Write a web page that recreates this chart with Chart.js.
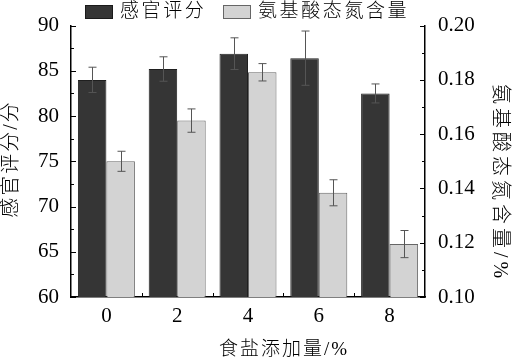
<!DOCTYPE html>
<html><head><meta charset="utf-8">
<script src="https://cdn.jsdelivr.net/npm/chart.js@4/dist/chart.umd.min.js"></script>
<style>html,body{margin:0;padding:0;background:#fff}#w{width:515px;height:364px}</style>
</head><body><div id="w"><canvas id="c"></canvas></div>
<script>
const categories = ['0','2','4','6','8'];
const sensory = [84.0, 85.2, 86.9, 86.4, 82.5];
const sensoryErr = [1.4, 1.35, 1.75, 3.0, 1.05];
const amino = [0.150, 0.165, 0.1828, 0.1384, 0.1195];
const aminoErr = [0.0037, 0.0043, 0.0032, 0.0048, 0.0050];
const seriesNames = ['感官评分', '氨基酸态氮含量'];
const leftTitle = '感官评分/分';
const rightTitle = '氨基酸态氮含量/%';
const xTitle = '食盐添加量/%';

const serif = "'Liberation Serif'";
const cjk = "'Liberation Serif', 'Noto Sans CJK SC'";

function spacedText(ctx, text, x, y, size, spacing) {
  ctx.font = '300 ' + size + 'px ' + cjk;
  if ('letterSpacing' in ctx) {
    ctx.letterSpacing = spacing + 'px';
    ctx.fillText(text, x, y);
    ctx.letterSpacing = '0px';
  } else {
    ctx.fillText(text, x, y);
  }
}

const extras = {
  id: 'extras',
  afterDatasetsDraw(chart) {
    const ctx = chart.ctx;
    const errs = [sensoryErr, aminoErr];
    const vals = [sensory, amino];
    ctx.save();
    ctx.strokeStyle = '#555';
    ctx.lineWidth = 1;
    [0,1].forEach(di => {
      const meta = chart.getDatasetMeta(di);
      const sc = chart.scales[meta.yAxisID];
      meta.data.forEach((bar, i) => {
        const x = Math.round(bar.x) + 0.5;
        const yt = sc.getPixelForValue(vals[di][i] + errs[di][i]);
        const yb = sc.getPixelForValue(vals[di][i] - errs[di][i]);
        ctx.beginPath();
        ctx.moveTo(x, yt); ctx.lineTo(x, yb);
        ctx.moveTo(x - 4, yt); ctx.lineTo(x + 4, yt);
        ctx.moveTo(x - 4, yb); ctx.lineTo(x + 4, yb);
        ctx.stroke();
      });
    });
    ctx.restore();
  },
  afterDraw(chart) {
    const ctx = chart.ctx;
    const a = chart.chartArea;
    const y = chart.scales.y, y1 = chart.scales.y1, x = chart.scales.x;
    ctx.save();
    ctx.strokeStyle = '#000';
    ctx.lineWidth = 1;
    for (let v = 60; v <= 90; v += 2.5) {
      const p = Math.round(y.getPixelForValue(v)) + 0.5;
      const len = (v % 5 === 0) ? 5 : 3;
      ctx.beginPath(); ctx.moveTo(a.left, p); ctx.lineTo(a.left + len, p); ctx.stroke();
    }
    for (let k = 0; k <= 10; k++) {
      const v = 0.10 + k * 0.01;
      const p = Math.round(y1.getPixelForValue(v)) + 0.5;
      const len = (k % 2 === 0) ? 5 : 3;
      ctx.beginPath(); ctx.moveTo(a.right, p); ctx.lineTo(a.right - len, p); ctx.stroke();
    }
    for (let i = 0; i < categories.length - 1; i++) {
      const p = Math.round((x.getPixelForValue(i) + x.getPixelForValue(i + 1)) / 2) + 0.5;
      ctx.beginPath(); ctx.moveTo(p, a.bottom); ctx.lineTo(p, a.bottom - 4); ctx.stroke();
    }
    ctx.fillStyle = '#000';
    ctx.textAlign = 'center';
    ctx.textBaseline = 'middle';
    spacedText(ctx, xTitle, 284, 350, 19, 2);
    ctx.save();
    ctx.translate(12, 159); ctx.rotate(-Math.PI / 2);
    spacedText(ctx, leftTitle, 0, 0, 20, 2);
    ctx.restore();
    ctx.save();
    ctx.translate(499, 183); ctx.rotate(Math.PI / 2);
    spacedText(ctx, rightTitle, 0, 0, 20, 4);
    ctx.restore();
    const items = [
      {x: 85, tx: 120, fill: '#353535', stroke: '#1a1a1a', label: seriesNames[0]},
      {x: 223, tx: 258, fill: '#d3d3d3', stroke: '#666', label: seriesNames[1]}
    ];
    ctx.textAlign = 'left';
    items.forEach(it => {
      ctx.fillStyle = it.fill; ctx.strokeStyle = it.stroke;
      ctx.fillRect(it.x, 5, 28, 14);
      ctx.strokeRect(it.x + 0.5, 5.5, 27, 13);
      ctx.fillStyle = '#000';
      spacedText(ctx, it.label, it.tx, 12, 19, 2.6);
    });
    ctx.restore();
  }
};

new Chart(document.getElementById('c'), {
  type: 'bar',
  data: {
    labels: categories,
    datasets: [
      {label: seriesNames[0], data: sensory, yAxisID: 'y', backgroundColor: '#353535', borderColor: '#1f1f1f', borderWidth: 1, categoryPercentage: 0.805, barPercentage: 1},
      {label: seriesNames[1], data: amino, yAxisID: 'y1', backgroundColor: '#d3d3d3', borderColor: '#666', borderWidth: 1, categoryPercentage: 0.805, barPercentage: 1}
    ]
  },
  options: {
    responsive: true,
    maintainAspectRatio: false,
    animation: false,
    font: {family: serif},
    layout: {padding: {top: 22, left: 0, right: 0, bottom: 0}},
    plugins: {legend: {display: false}, tooltip: {enabled: false}},
    scales: {
      x: {
        grid: {display: false, drawTicks: false},
        border: {display: true, color: '#000', width: 1.5},
        ticks: {color: '#000', font: {family: serif, size: 21}, padding: 7},
        afterFit(s) { s.height = 67; }
      },
      y: {
        position: 'left', min: 60, max: 90,
        grid: {display: false, drawTicks: false},
        border: {display: true, color: '#000', width: 1.5},
        ticks: {stepSize: 5, color: '#000', font: {family: serif, size: 21}, padding: 12},
        afterFit(s) { s.width = 71; }
      },
      y1: {
        position: 'right', min: 0.10, max: 0.20,
        grid: {display: false, drawTicks: false},
        border: {display: true, color: '#000', width: 1.5},
        ticks: {stepSize: 0.02, color: '#000', font: {family: serif, size: 21}, padding: 13,
          callback: v => v.toFixed(2)},
        afterFit(s) { s.width = 90; }
      }
    }
  },
  plugins: [extras]
});
</script>
</body></html>
